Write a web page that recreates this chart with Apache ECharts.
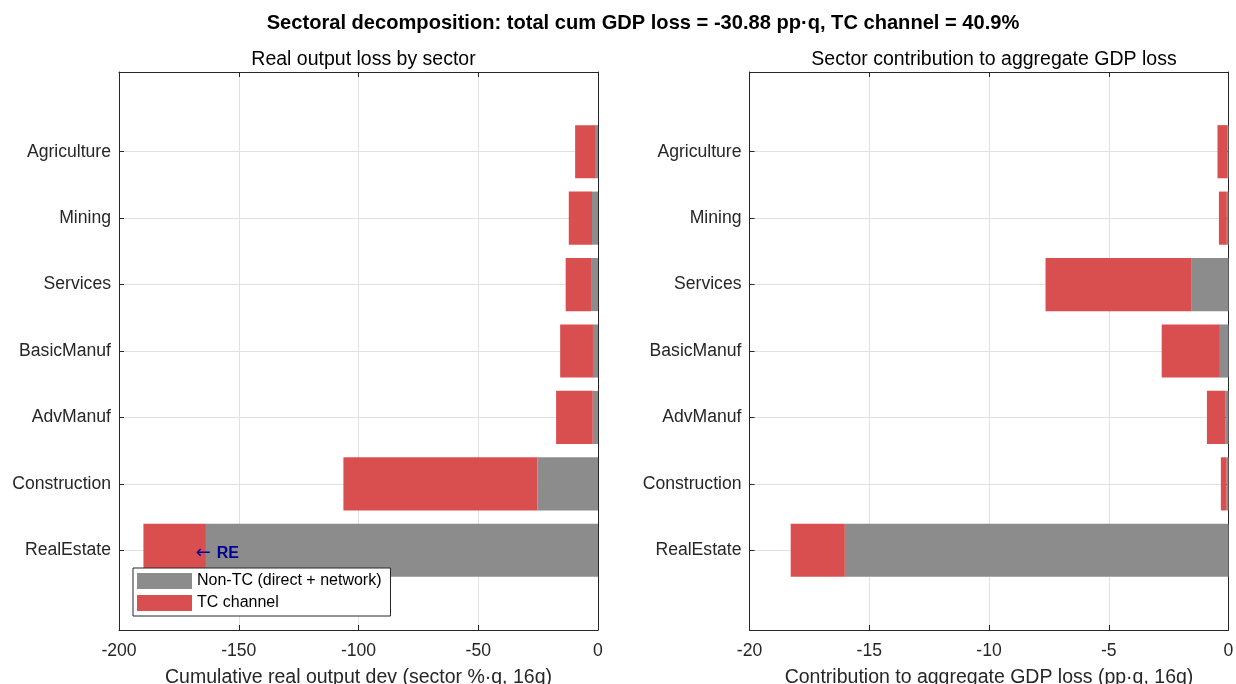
<!DOCTYPE html>
<html>
<head>
<meta charset="utf-8">
<title>Sectoral decomposition</title>
<script src="https://cdn.jsdelivr.net/npm/echarts@6/dist/echarts.min.js"></script>
<style>
  html, body { margin: 0; padding: 0; background: #fff; }
  #chart { width: 1236px; height: 684px; }
</style>
</head>
<body>
<div id="chart"></div>
<script>
// Sectors, top to bottom
const sectors = ['Agriculture', 'Mining', 'Services', 'BasicManuf', 'AdvManuf', 'Construction', 'RealEstate'];

// Cumulative real output deviation by sector (sector %·q, 16q)
const outputNonTC = [-1.25, -2.5, -2.9, -2.1, -2.2, -25.3, -163.7];
const outputTC    = [-8.3, -9.7, -10.6, -13.7, -15.3, -81.0, -26.1];

// Contribution to aggregate GDP loss (pp·q, 16q)
const contribNonTC = [-0.04, -0.07, -1.56, -0.36, -0.12, -0.08, -16.02];
const contribTC    = [-0.42, -0.33, -6.08, -2.43, -0.78, -0.24, -2.26];

// Axis ticks
const outputTicks  = [-200, -150, -100, -50, 0];
const contribTicks = [-20, -15, -10, -5, 0];

const FONT = '"Liberation Sans", Arial, Helvetica, sans-serif';
const TEXT = '#262626';
const AXIS = '#262626';
const GRIDC = '#e1e1e1';
const GRAY = '#8c8c8c';
const RED = '#d94f4f';
const BAR_H = 0.8;
const sectorPos = sectors.map((_, i) => i + 1);

// Horizontal segment from x0 to x1 at sector position y
function renderSegment(params, api) {
  const y = api.value(0);
  const p0 = api.coord([api.value(1), y]);
  const p1 = api.coord([api.value(2), y]);
  const h = api.size([0, BAR_H])[1];
  return {
    type: 'rect',
    shape: { x: Math.min(p0[0], p1[0]), y: p0[1] - h / 2, width: Math.abs(p1[0] - p0[0]), height: h },
    style: api.style()
  };
}

function stackedSegments(base, top) {
  return {
    lower: base.map((v, i) => [i + 1, 0, v]),
    upper: base.map((v, i) => [i + 1, v, v + top[i]])
  };
}

const outSeg = stackedSegments(outputNonTC, outputTC);
const conSeg = stackedSegments(contribNonTC, contribTC);

function xAxesFor(gridIndex, ticks, name) {
  const common = {
    type: 'value', gridIndex,
    min: ticks[0], max: ticks[ticks.length - 1], interval: ticks[1] - ticks[0]
  };
  return [
    Object.assign({}, common, {
      position: 'bottom',
      name, nameLocation: 'middle', nameGap: 38,
      nameTextStyle: { fontFamily: FONT, fontSize: 19.5, color: TEXT },
      axisLine: { show: true, onZero: false, lineStyle: { color: AXIS, width: 1 } },
      axisTick: { show: true, inside: true, length: 5, lineStyle: { color: AXIS } },
      axisLabel: { fontFamily: FONT, fontSize: 17.6, color: TEXT, margin: 12 },
      splitLine: { show: true, lineStyle: { color: GRIDC, width: 1 } }
    }),
    Object.assign({}, common, {
      position: 'top',
      axisLine: { show: true, onZero: false, lineStyle: { color: AXIS, width: 1 } },
      axisTick: { show: true, inside: true, length: 5, lineStyle: { color: AXIS } },
      axisLabel: { show: false },
      splitLine: { show: false }
    })
  ];
}

function yAxesFor(gridIndex) {
  const common = {
    type: 'value', gridIndex, inverse: true, min: -0.2, max: 8.2
  };
  return [
    Object.assign({}, common, {
      position: 'left',
      axisLine: { show: true, onZero: false, lineStyle: { color: AXIS, width: 1 } },
      axisTick: { show: true, inside: true, length: 5, customValues: sectorPos, lineStyle: { color: AXIS } },
      axisLabel: {
        customValues: sectorPos, fontFamily: FONT, fontSize: 17.6, color: TEXT, margin: 8,
        formatter: v => sectors[Math.round(v) - 1] || ''
      },
      splitLine: { show: true, lineStyle: { color: GRIDC, width: 1 } }
    }),
    Object.assign({}, common, {
      position: 'right',
      axisLine: { show: true, onZero: false, lineStyle: { color: AXIS, width: 1 } },
      axisTick: { show: true, inside: true, length: 5, customValues: sectorPos, lineStyle: { color: AXIS } },
      axisLabel: { show: false },
      splitLine: { show: false }
    })
  ];
}

const chart = echarts.init(document.getElementById('chart'), null, { renderer: 'canvas' });

const option = {
  backgroundColor: '#ffffff',
  animation: false,
  title: [
    {
      text: 'Sectoral decomposition: total cum GDP loss = -30.88 pp·q, TC channel = 40.9%',
      left: 638, textAlign: 'center', top: 8,
      textStyle: { fontFamily: FONT, fontSize: 20.1, fontWeight: 'bold', color: '#000' }
    },
    {
      text: 'Real output loss by sector',
      left: 358.5, textAlign: 'center', top: 45,
      textStyle: { fontFamily: FONT, fontSize: 19.5, fontWeight: 'normal', color: '#000' }
    },
    {
      text: 'Sector contribution to aggregate GDP loss',
      left: 989, textAlign: 'center', top: 45,
      textStyle: { fontFamily: FONT, fontSize: 19.5, fontWeight: 'normal', color: '#000' }
    }
  ],
  grid: [
    { left: 119, right: 638, top: 72, bottom: 54, outerBoundsMode: 'none', containLabel: false },
    { left: 749.5, right: 7.5, top: 72, bottom: 54, outerBoundsMode: 'none', containLabel: false }
  ],
  legend: {
    left: 133, top: 568,
    orient: 'vertical',
    data: ['Non-TC (direct + network)', 'TC channel'],
    icon: 'rect',
    itemWidth: 55, itemHeight: 16, itemGap: 6,
    padding: [5, 9, 5, 4],
    backgroundColor: '#fff',
    borderColor: AXIS, borderWidth: 1, borderRadius: 0,
    textStyle: { fontFamily: FONT, fontSize: 16, color: '#000', lineHeight: 16 },
    selectedMode: false
  },
  xAxis: [
    ...xAxesFor(0, outputTicks, 'Cumulative real output dev (sector %·q, 16q)'),
    ...xAxesFor(1, contribTicks, 'Contribution to aggregate GDP loss (pp·q, 16q)')
  ],
  yAxis: [...yAxesFor(0), ...yAxesFor(1)],
  series: [
    {
      name: 'Non-TC (direct + network)', type: 'custom', renderItem: renderSegment,
      xAxisIndex: 0, yAxisIndex: 0, encode: { x: [1, 2], y: 0 },
      itemStyle: { color: GRAY }, data: outSeg.lower, z: 2
    },
    {
      name: 'TC channel', type: 'custom', renderItem: renderSegment,
      xAxisIndex: 0, yAxisIndex: 0, encode: { x: [1, 2], y: 0 },
      itemStyle: { color: RED }, data: outSeg.upper, z: 2
    },
    {
      name: 'Non-TC (direct + network)', type: 'custom', renderItem: renderSegment,
      xAxisIndex: 2, yAxisIndex: 2, encode: { x: [1, 2], y: 0 },
      itemStyle: { color: GRAY }, data: conSeg.lower, z: 2
    },
    {
      name: 'TC channel', type: 'custom', renderItem: renderSegment,
      xAxisIndex: 2, yAxisIndex: 2, encode: { x: [1, 2], y: 0 },
      itemStyle: { color: RED }, data: conSeg.upper, z: 2
    },
    {
      // Real estate callout
      name: 'annotation', type: 'custom',
      xAxisIndex: 0, yAxisIndex: 0, z: 5,
      data: [[7, -168]],
      encode: { x: 1, y: 0 },
      renderItem: (params, api) => {
        const p = api.coord([api.value(1), api.value(0)]);
        return {
          type: 'text', x: p[0], y: p[1] + 3,
          style: {
            text: '{a|←}{b|RE}',
            align: 'left', verticalAlign: 'middle',
            rich: {
              a: { fontFamily: '"DejaVu Sans", sans-serif', fontSize: 18, width: 21, align: 'left', fill: '#000099', color: '#000099' },
              b: { fontFamily: FONT, fontSize: 16, fontWeight: 'bold', fill: '#000099', color: '#000099' }
            }
          }
        };
      }
    }
  ]
};

chart.setOption(option);
</script>
</body>
</html>
